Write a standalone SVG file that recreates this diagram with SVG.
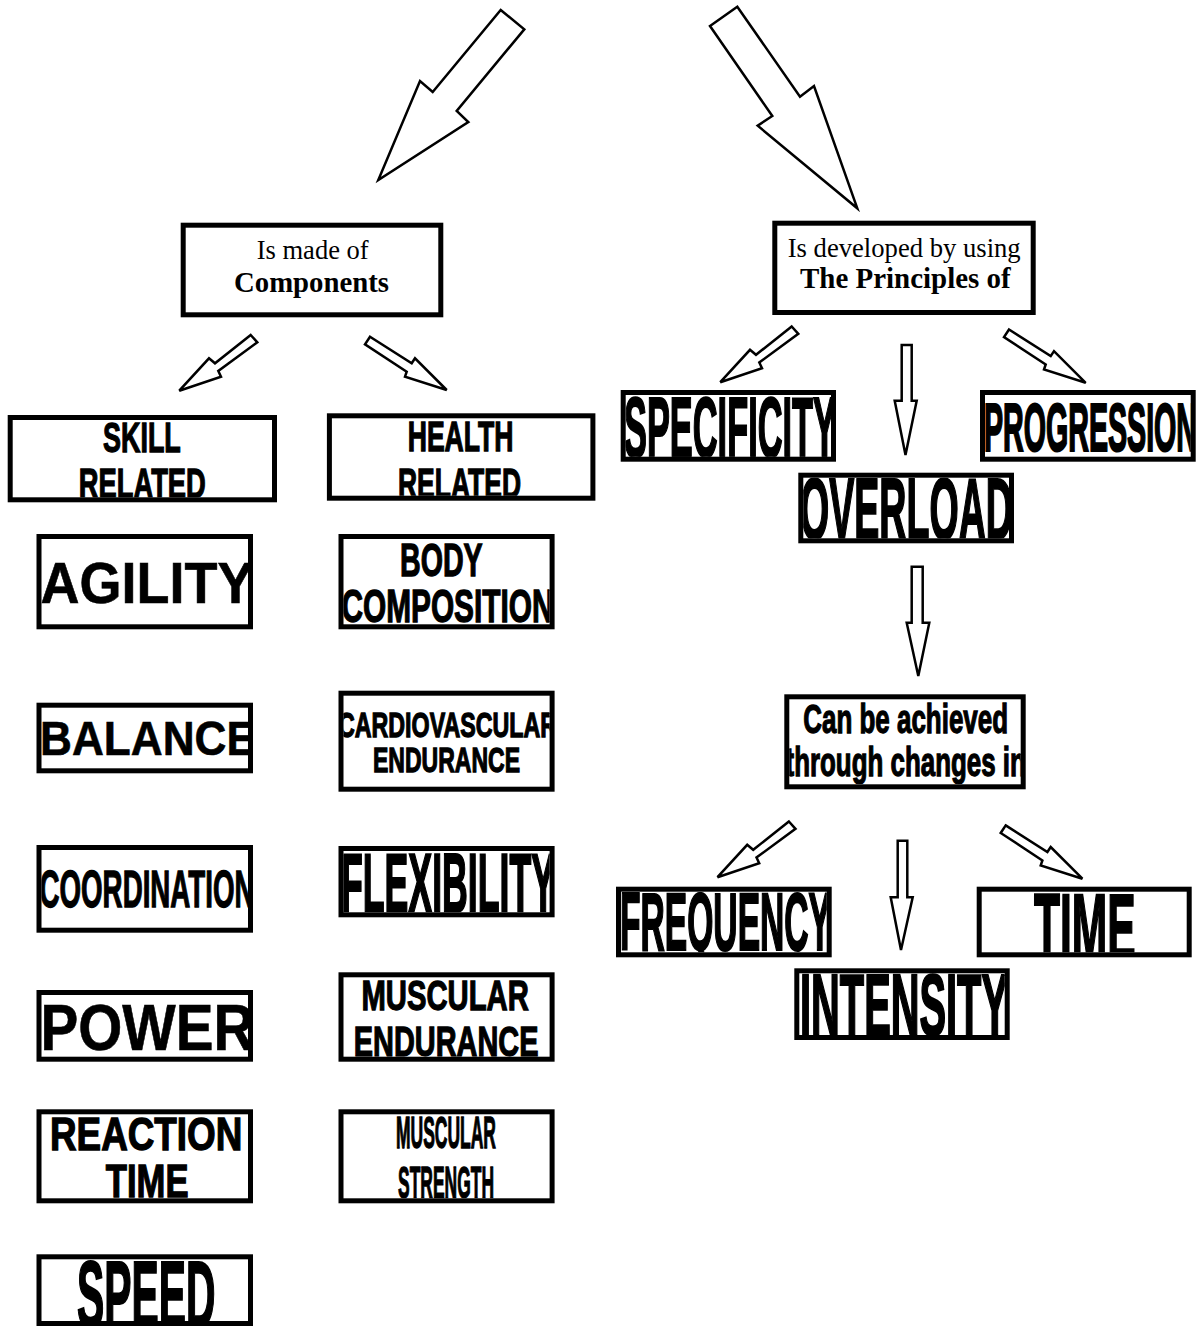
<svg xmlns="http://www.w3.org/2000/svg" width="1199" height="1332" viewBox="0 0 1199 1332">
<style>
.box{fill:#fff;stroke:#000;stroke-width:5}
.arrow{fill:#fff;stroke:#000;stroke-width:2.5;stroke-linejoin:miter}
.lbl{font-family:"Liberation Sans",Arial,sans-serif;font-weight:bold;fill:#000;stroke:#000;stroke-width:1.3}
.hv{stroke-width:2.2}
.lt{stroke-width:0.6}
.ser{font-family:"Liberation Serif","Times New Roman",serif;fill:#000;font-size:26.5px}
.serb{font-family:"Liberation Serif","Times New Roman",serif;fill:#000;font-weight:bold;font-size:29px}
</style>
<defs>
<clipPath id="c-skill"><rect x="12.7" y="420" width="259.3" height="77.3"/></clipPath>
<clipPath id="c-health"><rect x="331.9" y="418.3" width="258.5" height="77.4"/></clipPath>
<clipPath id="c-agility"><rect x="41.5" y="539" width="206.5" height="85.3"/></clipPath>
<clipPath id="c-body"><rect x="343.5" y="539" width="206.1" height="85.3"/></clipPath>
<clipPath id="c-balance"><rect x="41.5" y="707.7" width="206.5" height="60.6"/></clipPath>
<clipPath id="c-cardio"><rect x="343.5" y="695.7" width="206.1" height="91"/></clipPath>
<clipPath id="c-coord"><rect x="41.5" y="850" width="206.5" height="77.7"/></clipPath>
<clipPath id="c-flex"><rect x="343.5" y="851" width="206.1" height="61.3"/></clipPath>
<clipPath id="c-power"><rect x="41.5" y="995" width="206.5" height="61.7"/></clipPath>
<clipPath id="c-muscend"><rect x="343.5" y="977.3" width="206.1" height="79.4"/></clipPath>
<clipPath id="c-reaction"><rect x="41.5" y="1114.3" width="206.5" height="84"/></clipPath>
<clipPath id="c-muscstr"><rect x="343.5" y="1114.3" width="206.1" height="84"/></clipPath>
<clipPath id="c-speed"><rect x="41.5" y="1259.3" width="206.5" height="61.7"/></clipPath>
<clipPath id="c-spec"><rect x="625.7" y="395" width="205.3" height="61.7"/></clipPath>
<clipPath id="c-prog"><rect x="985" y="395" width="205.7" height="61.7"/></clipPath>
<clipPath id="c-over"><rect x="803.3" y="477.7" width="205.7" height="60.6"/></clipPath>
<clipPath id="c-ach"><rect x="789.3" y="699.3" width="231.4" height="85"/></clipPath>
<clipPath id="c-freq"><rect x="621" y="891.7" width="205.7" height="60.6"/></clipPath>
<clipPath id="c-time"><rect x="981.7" y="891.7" width="205" height="60.6"/></clipPath>
<clipPath id="c-int"><rect x="799.3" y="973.3" width="205.4" height="61.7"/></clipPath>
</defs>

<g id="connectors">
<polygon class="arrow" points="500.7,10 524.3,29.3 456.7,111 468.3,122 378.3,180 420,81 432.7,92"/>
<polygon class="arrow" points="737.3,6.7 800,96.7 814,86 857.3,208.3 757.7,125.7 772.3,116 710,26"/>
<polygon class="arrow" points="250.7,335 257.3,342.3 218.3,371 221,376.7 179.3,390.7 209,358.3 215,363.3"/>
<polygon class="arrow" points="370,336.7 411.7,363.3 415,358.3 446.7,390 405,376.7 406.7,371.7 365,344.3"/>
<polygon class="arrow" points="791.7,326.5 798.3,333.8 759.3,362.5 762,368.2 720.3,382.2 750,349.8 756,354.8"/>
<polygon class="arrow" points="1009,329.5 1050.7,356.1 1054,351.1 1085.7,382.8 1044,369.5 1045.7,364.5 1004,337.1"/>
<polygon class="arrow" points="901.7,345 911.7,345 911.7,400.7 916.7,400.7 905.5,455 894.7,400.7 901.7,400.7"/>
<polygon class="arrow" points="911.7,566.7 922.7,566.7 922.7,622.7 929.3,622.7 918.3,676 906.7,622.7 911.7,622.7"/>
<polygon class="arrow" points="788.9,821.5 795.5,828.8 756.5,857.5 759.2,863.2 717.5,877.2 747.2,844.8 753.2,849.8"/>
<polygon class="arrow" points="1005.7,825.4 1047.4,852 1050.7,847 1082.4,878.7 1040.7,865.4 1042.4,860.4 1000.7,833"/>
<polygon class="arrow" points="897.7,840.7 907.3,840.7 907.3,897.3 912.7,897.3 901,950 890.7,897.3 897.7,897.3"/>
</g>

<g id="components">
<rect class="box" x="183.2" y="225.2" width="257.6" height="89.6"/>
<text class="ser" x="256.7" y="259" textLength="112" lengthAdjust="spacingAndGlyphs">Is made of</text>
<text class="serb" x="234" y="292" textLength="155" lengthAdjust="spacingAndGlyphs">Components</text>
</g>

<g id="principles">
<rect class="box" x="774.8" y="223.2" width="258.4" height="89.3"/>
<text class="ser" x="787.7" y="256.7" textLength="233" lengthAdjust="spacingAndGlyphs">Is developed by using</text>
<text class="serb" x="800" y="288.3" textLength="210.7" lengthAdjust="spacingAndGlyphs">The Principles of</text>
</g>

<g id="skill-related">
<rect class="box" x="10.2" y="417.5" width="264.3" height="82.3"/>
<g clip-path="url(#c-skill)">
<text class="lbl" x="103" y="451.7" font-size="43" textLength="77.8" lengthAdjust="spacingAndGlyphs">SKILL</text>
<text class="lbl" x="78.8" y="497.5" font-size="43" textLength="127" lengthAdjust="spacingAndGlyphs">RELATED</text>
</g>
</g>

<g id="health-related">
<rect class="box" x="329.4" y="415.8" width="263.5" height="82.4"/>
<g clip-path="url(#c-health)">
<text class="lbl" x="407.7" y="451" font-size="43" textLength="105.8" lengthAdjust="spacingAndGlyphs">HEALTH</text>
<text class="lbl" x="398" y="497.5" font-size="43" textLength="123" lengthAdjust="spacingAndGlyphs">RELATED</text>
</g>
</g>

<g id="agility">
<rect class="box" x="39" y="536.5" width="211.5" height="90.3"/>
<g clip-path="url(#c-agility)">
<text class="lbl lt" x="40.5" y="603.3" font-size="58" textLength="213" lengthAdjust="spacingAndGlyphs">AGILITY</text>
</g>
</g>

<g id="body-composition">
<rect class="box" x="341" y="536.5" width="211.1" height="90.3"/>
<g clip-path="url(#c-body)">
<text class="lbl" x="400" y="576" font-size="46" textLength="82.7" lengthAdjust="spacingAndGlyphs">BODY</text>
<text class="lbl" x="341.5" y="621.7" font-size="46" textLength="212" lengthAdjust="spacingAndGlyphs">COMPOSITION</text>
</g>
</g>

<g id="balance">
<rect class="box" x="39" y="705.2" width="211.5" height="65.6"/>
<g clip-path="url(#c-balance)">
<text class="lbl lt" x="40" y="755" font-size="49" textLength="216" lengthAdjust="spacingAndGlyphs">BALANCE</text>
</g>
</g>

<g id="cardiovascular-endurance">
<rect class="box" x="341" y="693.2" width="211.1" height="96"/>
<g clip-path="url(#c-cardio)">
<text class="lbl" x="338" y="736.7" font-size="35" textLength="219" lengthAdjust="spacingAndGlyphs">CARDIOVASCULAR</text>
<text class="lbl" x="373" y="771.7" font-size="35" textLength="147" lengthAdjust="spacingAndGlyphs">ENDURANCE</text>
</g>
</g>

<g id="coordination">
<rect class="box" x="39" y="847.5" width="211.5" height="82.7"/>
<g clip-path="url(#c-coord)">
<text class="lbl" x="39.5" y="906.7" font-size="51" textLength="215" lengthAdjust="spacingAndGlyphs">COORDINATION</text>
</g>
</g>

<g id="flexibility">
<rect class="box" x="341" y="848.5" width="211.1" height="66.3"/>
<g clip-path="url(#c-flex)">
<text class="lbl hv" x="341" y="911.7" font-size="84" textLength="214" lengthAdjust="spacingAndGlyphs">FLEXIBILITY</text>
</g>
</g>

<g id="power">
<rect class="box" x="39" y="992.5" width="211.5" height="66.7"/>
<g clip-path="url(#c-power)">
<text class="lbl lt" x="40.5" y="1050" font-size="65" textLength="214" lengthAdjust="spacingAndGlyphs">POWER</text>
</g>
</g>

<g id="muscular-endurance">
<rect class="box" x="341" y="974.8" width="211.1" height="84.4"/>
<g clip-path="url(#c-muscend)">
<text class="lbl" x="361.5" y="1010" font-size="43" textLength="167.3" lengthAdjust="spacingAndGlyphs">MUSCULAR</text>
<text class="lbl" x="353.8" y="1056" font-size="43" textLength="184.7" lengthAdjust="spacingAndGlyphs">ENDURANCE</text>
</g>
</g>

<g id="reaction-time">
<rect class="box" x="39" y="1111.8" width="211.5" height="89"/>
<g clip-path="url(#c-reaction)">
<text class="lbl" x="50" y="1150" font-size="46" textLength="192.3" lengthAdjust="spacingAndGlyphs">REACTION</text>
<text class="lbl" x="105.8" y="1197" font-size="46" textLength="82.7" lengthAdjust="spacingAndGlyphs">TIME</text>
</g>
</g>

<g id="muscular-strength">
<rect class="box" x="341" y="1111.8" width="211.1" height="89"/>
<g clip-path="url(#c-muscstr)">
<text class="lbl" x="396" y="1148.3" font-size="44" textLength="100" lengthAdjust="spacingAndGlyphs">MUSCULAR</text>
<text class="lbl" x="398" y="1198" font-size="44" textLength="96" lengthAdjust="spacingAndGlyphs">STRENGTH</text>
</g>
</g>

<g id="speed">
<rect class="box" x="39" y="1256.8" width="211.5" height="66.7"/>
<g clip-path="url(#c-speed)">
<text class="lbl hv" x="77" y="1327" font-size="95" textLength="138.4" lengthAdjust="spacingAndGlyphs">SPEED</text>
</g>
</g>

<g id="specificity">
<rect class="box" x="623.2" y="392.5" width="210.3" height="66.7"/>
<g clip-path="url(#c-spec)">
<text class="lbl hv" x="624" y="456.7" font-size="85" textLength="212" lengthAdjust="spacingAndGlyphs">SPECIFICITY</text>
</g>
</g>

<g id="progression">
<rect class="box" x="982.5" y="392.5" width="210.7" height="66.7"/>
<g clip-path="url(#c-prog)">
<text class="lbl hv" x="984" y="450.7" font-size="68" textLength="213" lengthAdjust="spacingAndGlyphs">PROGRESSION</text>
</g>
</g>

<g id="overload">
<rect class="box" x="800.8" y="475.2" width="210.7" height="65.6"/>
<g clip-path="url(#c-over)">
<text class="lbl hv" x="800" y="539.3" font-size="87" textLength="213" lengthAdjust="spacingAndGlyphs">OVERLOAD</text>
</g>
</g>

<g id="achieved">
<rect class="box" x="786.8" y="696.8" width="236.4" height="90"/>
<g clip-path="url(#c-ach)">
<text class="lbl" x="803.3" y="732.7" font-size="41" textLength="204.7" lengthAdjust="spacingAndGlyphs">Can be achieved</text>
<text class="lbl" x="785.5" y="776" font-size="41" textLength="240.4" lengthAdjust="spacingAndGlyphs">through changes in</text>
</g>
</g>

<g id="frequency">
<rect class="box" x="618.5" y="889.2" width="210.7" height="65.6"/>
<g clip-path="url(#c-freq)">
<text class="lbl hv" x="620" y="950" font-size="81" textLength="211" lengthAdjust="spacingAndGlyphs">FREQUENCY</text>
</g>
</g>

<g id="time">
<rect class="box" x="979.2" y="889.2" width="210" height="65.6"/>
<g clip-path="url(#c-time)">
<text class="lbl hv" x="1034" y="960" font-size="95" textLength="101.7" lengthAdjust="spacingAndGlyphs">TIME</text>
</g>
</g>

<g id="intensity">
<rect class="box" x="796.8" y="970.8" width="210.4" height="66.7"/>
<g clip-path="url(#c-int)">
<text class="lbl hv" x="800" y="1035" font-size="87" textLength="208" lengthAdjust="spacingAndGlyphs">INTENSITY</text>
</g>
</g>
</svg>
